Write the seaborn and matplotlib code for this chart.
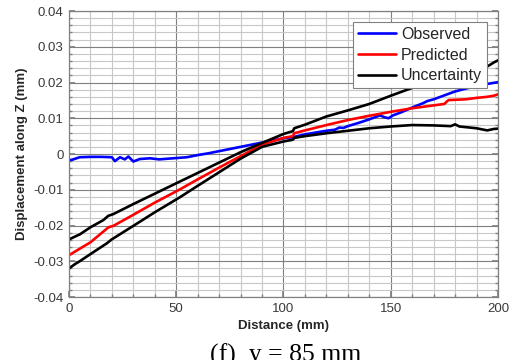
import matplotlib
matplotlib.use("Agg")
import matplotlib.pyplot as plt
from matplotlib.ticker import MultipleLocator
import seaborn as sns
import pandas as pd

# Observed displacement along Z (mm) versus distance (mm)
obs_x = [0, 1.5, 5, 10, 15, 20, 21.4, 23.8, 26, 27.7, 30, 33, 37.8, 42, 48.5, 55, 60,
         65, 70, 75, 80, 85, 90, 95, 100, 104.4, 105, 110, 115, 120, 124, 126, 128, 130,
         135, 140, 145, 147, 149, 151, 155, 160, 165, 167, 170, 175, 180, 185, 190, 195, 200]
obs_y = [-0.0017, -0.0016, -0.0009, -0.0008, -0.0008, -0.0009, -0.0020, -0.0009, -0.0015,
         -0.0007, -0.0021, -0.0014, -0.0012, -0.0015, -0.0012, -0.0009, -0.0003,
         0.0002, 0.0008, 0.0014, 0.0020, 0.0026, 0.0032, 0.0038, 0.0044, 0.0047, 0.0048,
         0.0055, 0.0060, 0.0065, 0.0068, 0.0074, 0.0073, 0.0078, 0.0087, 0.0097, 0.0108,
         0.0103, 0.0100, 0.0108, 0.0117, 0.0130, 0.0142, 0.0148, 0.0153, 0.0164, 0.0175,
         0.0183, 0.0190, 0.0196, 0.0201]

# Predicted displacement
pred_x = [0, 2.8, 5, 10, 16, 18.4, 20.7, 30, 40, 51.7, 60, 70, 80, 90, 100, 104.4, 105,
          110, 120, 130, 140, 150, 160, 170, 175, 176, 177, 185, 190, 195, 198, 200]
pred_y = [-0.0283, -0.0273, -0.0265, -0.0247, -0.0217, -0.0205, -0.0201, -0.0170,
          -0.0136, -0.0099, -0.0071, -0.0038, -0.0006, 0.0026, 0.0045, 0.0050, 0.0058,
          0.0066, 0.0081, 0.0095, 0.0107, 0.0118, 0.0128, 0.0136, 0.0140, 0.0146, 0.0151,
          0.0153, 0.0157, 0.0160, 0.0163, 0.0167]

# Uncertainty band: upper bound
upper_x = [0, 2.8, 5, 10, 16, 18.3, 20.7, 30, 40, 51.7, 60, 70, 80, 90, 100, 104.4, 105,
           110, 120, 130, 140, 150, 160, 170, 180, 190, 195, 197, 198, 200]
upper_y = [-0.0239, -0.0231, -0.0225, -0.0205, -0.0185, -0.0173, -0.0168, -0.0140,
           -0.0111, -0.0077, -0.0053, -0.0024, 0.0005, 0.0031, 0.0056, 0.0064, 0.0072,
           0.0082, 0.0105, 0.0122, 0.0140, 0.0163, 0.0185, 0.0205, 0.0220, 0.0238,
           0.0245, 0.0252, 0.0256, 0.0262]

# Uncertainty band: lower bound
lower_x = [0, 2.8, 5, 10, 17.6, 19.9, 30, 40, 51.7, 60, 70, 80, 90, 100, 104.4, 105,
           110, 120, 130, 140, 150, 160, 170, 178, 180, 182, 190, 195, 198, 200]
lower_y = [-0.0320, -0.0308, -0.0300, -0.0280, -0.0250, -0.0239, -0.0201, -0.0163,
           -0.0121, -0.0089, -0.0051, -0.0013, 0.0020, 0.0035, 0.0040, 0.0045,
           0.0050, 0.0058, 0.0065, 0.0072, 0.0077, 0.0081, 0.0080, 0.0078, 0.0083,
           0.0077, 0.0072, 0.0066, 0.0070, 0.0071]

x_ticks = [0, 50, 100, 150, 200]
y_ticks = [-0.04, -0.03, -0.02, -0.01, 0, 0.01, 0.02, 0.03, 0.04]
y_tick_labels = ["-0.04", "-0.03", "-0.02", "-0.01", "0", "0.01", "0.02", "0.03", "0.04"]

sns.set_theme(style="white")
plt.rcParams["font.family"] = ["Liberation Sans", "DejaVu Sans"]

fig = plt.figure(figsize=(5.16, 3.60), dpi=100)
ax = fig.add_axes([0.1337, 0.175, 0.8314, 0.7944])

series = [
    (obs_x, obs_y, "#0000ff", "Observed"),
    (pred_x, pred_y, "#ff0000", "Predicted"),
    (upper_x, upper_y, "#000000", "Uncertainty"),
    (lower_x, lower_y, "#000000", None),
]
for xs, ys, col, lab in series:
    df = pd.DataFrame({"x": xs, "y": ys})
    sns.lineplot(data=df, x="x", y="y", ax=ax, color=col, linewidth=1.9,
                 label=lab, legend=False, sort=False, estimator=None)

ax.set_xlim(0, 200)
ax.set_ylim(-0.04, 0.04)
ax.set_xticks(x_ticks)
ax.set_xticklabels([str(t) for t in x_ticks])
ax.set_yticks(y_ticks)
ax.set_yticklabels(y_tick_labels)
ax.xaxis.set_minor_locator(MultipleLocator(10))
ax.yaxis.set_minor_locator(MultipleLocator(0.002))

ax.grid(which="major", color="#7f7f7f", linewidth=0.8)
ax.grid(which="minor", color="#c8c8c8", linewidth=0.8)
ax.set_axisbelow(True)
for s in ax.spines.values():
    s.set_color("#808080")
    s.set_linewidth(0.9)

ax.tick_params(which="both", direction="in", colors="#808080", labelcolor="#3a3a3a",
               labelsize=9.5, right=True, left=True, bottom=True, top=False)
ax.tick_params(which="major", length=4, pad=4)
ax.tick_params(which="minor", length=2.5)

ax.set_xlabel("Distance (mm)", fontsize=9.5, fontweight="bold", labelpad=4)
ax.set_ylabel("Displacement along Z (mm)", fontsize=9.5, fontweight="bold", labelpad=4)

handles, labels = ax.get_legend_handles_labels()
leg = ax.legend(handles, labels, loc="upper right", bbox_to_anchor=(1.0, 1.0),
                fontsize=11.5, frameon=True, fancybox=False, framealpha=1,
                edgecolor="#808080", borderpad=0.3, labelspacing=0.35,
                handlelength=2.4, handletextpad=0.3, borderaxespad=0.7)
leg.get_frame().set_linewidth(0.8)

fig.text(0.554, -0.0056, "(f)  y = 85 mm", ha="center", va="baseline", fontsize=18.5,
         family=["Liberation Serif", "DejaVu Serif"], color="#000000")

fig.savefig("out.png", dpi=100)
